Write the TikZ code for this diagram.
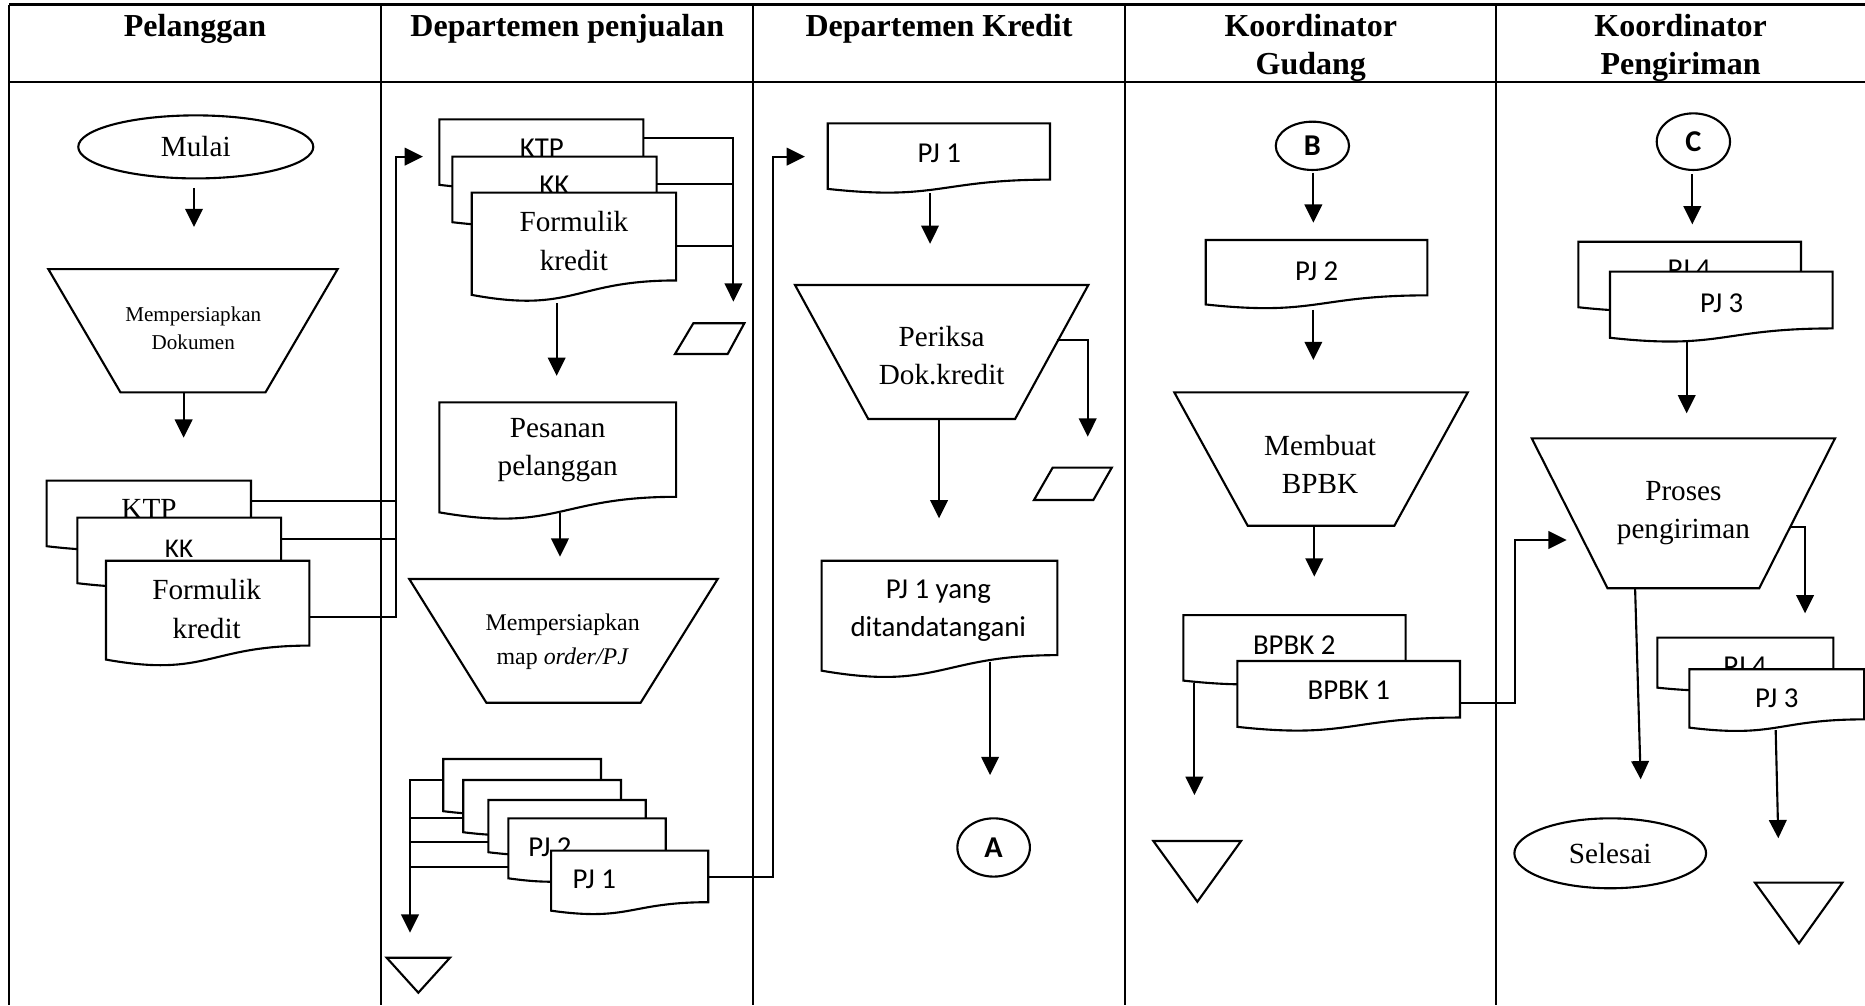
\documentclass[tikz,border=0pt]{standalone}
\usepackage{fontspec}
\setmainfont{Liberation Serif}
\newfontfamily\calibrifont{Carlito}
\usetikzlibrary{arrows.meta,shapes.geometric,fit}

\tikzset{
  shapeline/.style={draw, fill=white, line width=0.6pt, line join=miter},
  frame/.style={inner sep=0pt, outer sep=0pt, draw=none},
  conn/.style={line width=0.6pt},
  arr/.style={conn, -{Triangle[length=5.2pt,width=5pt]}},
  gridv/.style={line width=0.5pt},
  gridh/.style={line width=0.8pt},
  hdr/.style={font=\fontsize{9.1}{10.7}\selectfont\bfseries, align=center, inner sep=0pt, anchor=north},
  ser/.style={font=\fontsize{8.3}{10.9}\selectfont, align=center, inner sep=0pt},
  sans/.style={font=\calibrifont\fontsize{8.2}{10.9}\selectfont, align=center, inner sep=0pt},
  smallser/.style={font=\fontsize{6}{8.05}\selectfont, align=center, inner sep=0pt},
  midser/.style={font=\fontsize{6.8}{9.5}\selectfont, align=center, inner sep=0pt},
  ell/.style 2 args={ellipse, draw, fill=white, line width=0.6pt, inner sep=0pt,
    minimum width={#1*0.011894cm}, minimum height={#2*0.011894cm}},
  cnlbl/.style={font=\calibrifont\bfseries\fontsize{8.6}{9}\selectfont}
}

% document symbol: name, left x, top y, width, height
\newcommand\docbox[5]{%
  \draw[shapeline] (#2,#3) -- ({#2+#4},#3) -- ({#2+#4},{#3+0.802*#5})
    .. controls ({#2+0.5*#4},{#3+0.802*#5}) and ({#2+0.5*#4},{#3+1.107*#5})
    .. (#2,{#3+0.934*#5}) -- cycle;
  \node[frame, fit={(#2,#3) ({#2+#4},{#3+0.8*#5})}] (#1) {};
}
% manual operation (inverted trapezoid): name, centre x, top y, top width, bottom width, height
\newcommand\manop[6]{%
  \draw[shapeline] ({#2-#4/2},#3) -- ({#2+#4/2},#3) -- ({#2+#5/2},{#3+#6})
    -- ({#2-#5/2},{#3+#6}) -- cycle;
  \node[frame, fit={({#2-#4/2},#3) ({#2+#4/2},{#3+#6})}] (#1) {};
}

\begin{document}
\begin{tikzpicture}[x=0.011894cm, y=-0.011894cm]
\useasboundingbox (0,0) rectangle (1568,845);

% swimlane grid
\draw[gridh] (7.6,4) -- (1568,4);
\draw[gridh] (7.6,69) -- (1568,69);
\foreach \x in {7.6,320.5,633.3,945.8,1258} \draw[gridv] (\x,4) -- (\x,845);

% lane titles
\node[hdr] (h1) at (164,11.5) {Pelanggan};
\node[hdr] (h2) at (477,11.5) {Departemen penjualan};
\node[hdr] (h3) at (789.5,11.5) {Departemen Kredit};
\node[hdr] (h4) at (1102,11.5) {Koordinator\\Gudang};
\node[hdr] (h5) at (1413,11.5) {Koordinator\\Pengiriman};

% ---- Pelanggan
\node[ell={197.6}{53}, ser] (mulai) at (164.6,123.5) {Mulai};
\draw[arr] (mulai.south) ++(-1.5,7) -- ++(0,33);
\manop{prep1}{162.25}{226.2}{243.3}{121.9}{103.7}
\node[smallser] (prep1t) at (162.5,276) {Mempersiapkan\\Dokumen};
\draw[arr] (prep1.south) ++(-7.85,0) -- ++(0,38.1);
\docbox{ktpa}{39.2}{404.1}{171.8}{59}
\node[ser] (ktpat) at (125.3,427.5) {KTP};
\docbox{kka}{65}{435.2}{171.3}{59}
\node[sans, font=\calibrifont\fontsize{7.7}{9}\selectfont] (kkat) at (150.5,461) {KK};
\docbox{forma}{89.1}{471.4}{171}{89}
\node[ser] (format) at (173.8,512) {Formulik\\kredit};
\coordinate (ja) at (333,131.7);
\draw[conn] (ktpa.north east) ++(0,16.9) -| (ja);
\draw[conn] (kka.north east) ++(0,18) -| (ja);
\draw[arr] (forma.north east) ++(0,47.1) -| (ja) -- ++(22.6,0);

% ---- Departemen penjualan
\docbox{ktpb}{369.4}{100.3}{171.5}{59}
\node[sans] (ktpbt) at (455.6,124.5) {KTP};
\docbox{kkb}{380.3}{131.7}{171.8}{59}
\node[sans] (kkbt) at (466,156) {KK};
\docbox{formb}{396.6}{162}{171.8}{92}
\node[ser] (formbt) at (482.5,202.5) {Formulik\\kredit};
\coordinate (jb) at (616.6,253.6);
\draw[arr] (ktpb.north east) ++(0,15.4) -| (jb);
\draw[conn] (kkb.north east) ++(0,23.3) -- ++(64.5,0);
\draw[conn] (formb.north east) ++(0,44.5) -- ++(48.2,0);
\draw[shapeline] (582.9,271.8) -- (625.8,271.8) -- (611.8,297.6) -- (567.5,297.6) -- cycle;
\draw[arr] (formb.south) ++(-14.5,19.4) -- ++(0,61);
\docbox{pesan}{369.4}{338.3}{199}{99}
\node[ser] (pesant) at (468.9,378.5) {Pesanan\\pelanggan};
\draw[arr] (pesan.south) ++(1.9,14) -- ++(0,36.5);
\manop{prep2}{473.75}{486.8}{259.3}{129.7}{104}
\node[midser] (prep2t) at (473.1,539.5) {Mempersiapkan\\map \textit{order/PJ}};
\docbox{pja}{372.7}{638.1}{132.6}{47}
\docbox{pjb}{389.5}{655.8}{132.6}{47}
\docbox{pjc}{410.6}{672.6}{132.3}{47}
\docbox{pjd}{427.4}{688}{132.3}{54}
\node[sans] (pjdt) at (462.4,712.5) {PJ 2};
\docbox{pje}{463.3}{715.2}{132.2}{54}
\node[sans] (pjet) at (499.7,739.6) {PJ 1};
\coordinate (jc) at (344.7,784.2);
\draw[arr] (pja.north west) ++(0,17.7) -| (jc);
\draw[conn] (pjb.north west) ++(0,32.2) -- ++(-44.8,0);
\draw[conn] (pjc.north west) ++(0,35) -- ++(-65.9,0);
\draw[conn] (pjd.north west) ++(0,40.6) -- ++(-82.7,0);
\draw[shapeline] (325.1,805.2) -- (378.3,805.2) -- (351.7,834.6) -- cycle;
\coordinate (jd) at (650.2,131.7);
\draw[arr] (pje.north east) ++(0,21.9) -| (jd) -- ++(26.6,0);

% ---- Departemen Kredit
\docbox{pjk}{695.9}{103.7}{186.9}{59}
\node[sans] (pjkt) at (789.7,128.9) {PJ 1};
\draw[arr] (pjk.south) ++(-7.45,11.4) -- ++(0,42.7);
\manop{cek}{791.7}{239.6}{246.6}{123.4}{112.7}
\node[ser] (cekt) at (791.7,299.2) {Periksa\\Dok.kredit};
\draw[arr] (cek.north east) ++(-26.6,46.3) -- ++(26.1,0) -- ++(0,81.2);
\draw[shapeline] (885,393.2) -- (934.7,393.2) -- (919.2,420.4) -- (869.3,420.4) -- cycle;
\draw[arr] (cek.south) ++(-2.2,0) -- ++(0,83.5);
\docbox{ttd}{690.8}{471.4}{198.2}{99}
\node[sans] (ttdt) at (788.9,513.6) {PJ 1 yang\\ditandatangani};
\draw[arr] (ttd.south) ++(42.5,5.7) -- ++(0,95.3);
\node[ell={61}{49}, cnlbl] (ca) at (835.4,712.5) {A};

% ---- Koordinator Gudang
\node[ell={61.6}{40.6}, cnlbl] (cb) at (1103.4,122.6) {B};
\draw[arr] (cb.south) ++(0.8,1.4) -- ++(0,42.1);
\docbox{pjg}{1013.7}{201.8}{186.3}{58}
\node[sans] (pjgt) at (1107,228.4) {PJ 2};
\draw[arr] (pjg.south) ++(-2.65,12.4) -- ++(0,42.1);
\manop{buat}{1110.65}{329.9}{246.7}{123.3}{112.1}
\node[ser] (buatt) at (1109.8,390.2) {Membuat\\BPBK};
\draw[arr] (buat.south) ++(-5.65,0) -- ++(0,42.8);
\docbox{bpbkb}{994.9}{517.1}{186.9}{59}
\node[sans] (bpbkbt) at (1088.1,542.3) {BPBK 2};
\docbox{bpbka}{1040.3}{555.7}{187.2}{59.3}
\node[sans] (bpbkat) at (1134,580.1) {BPBK 1};
\draw[arr] (bpbkb.north west) ++(9.3,56.9) -- ++(0,94.4);
\draw[shapeline] (969.7,707.1) -- (1043.4,707.1) -- (1006.7,758.1) -- cycle;
\coordinate (je) at (1273.8,454);
\draw[arr] (bpbka.north east) ++(0,35.1) -| (je) -- ++(43.4,0);

% ---- Koordinator Pengiriman
\node[ell={61.6}{47.6}, cnlbl] (cc) at (1423.7,119.1) {C};
\draw[arr] (cc.south) ++(-0.9,2.3) -- ++(0,42.6);
\docbox{pj4a}{1327}{203.2}{187.2}{59}
\node[sans] (pj4at) at (1420.2,226.5) {PJ 4};
\docbox{pj3a}{1353.6}{228.4}{187.2}{59.5}
\node[sans] (pj3at) at (1447.5,255) {PJ 3};
\draw[arr] (pj3a.south) ++(-29.1,11.8) -- ++(0,59.7);
\manop{kirim}{1415.3}{368.5}{255}{127.5}{126.1}
\node[ser] (kirimt) at (1415.3,431.6) {Proses\\pengiriman};
\draw[arr] (kirim.north east) ++(-37.5,74.3) -- ++(12.3,0) -- ++(0,72.9);
\draw[arr] (kirim.south) ++(-40.6,0) -- ++(4.7,160.6);
\node[ell={161.2}{58.8}, ser] (selesai) at (1353.8,717.4) {Selesai};
\docbox{pj4b}{1393.4}{536.1}{148}{45}
\node[sans] (pj4bt) at (1467.1,559.9) {PJ 4};
\docbox{pj3b}{1420.3}{562.7}{147}{52.5}
\node[sans] (pj3bt) at (1493.8,587.1) {PJ 3};
\draw[arr] (pj3b.south) ++(-0.9,9.1) -- ++(2.2,91);
\draw[shapeline] (1475.5,742.1) -- (1549,742.1) -- (1512.5,793.1) -- cycle;
\end{tikzpicture}
\end{document}
